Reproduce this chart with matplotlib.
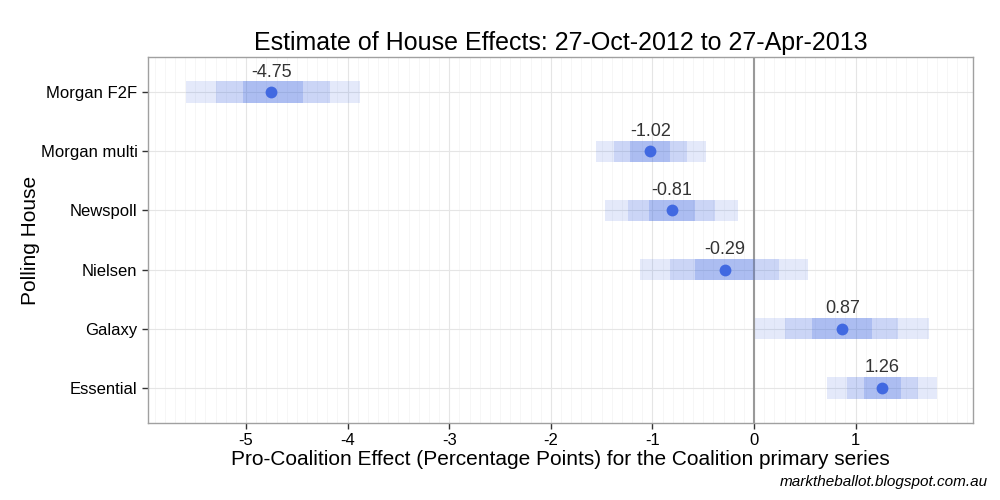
import matplotlib
matplotlib.use("Agg")
import matplotlib.pyplot as plt
import numpy as np

plt.rcParams['font.family'] = ['Liberation Sans', 'DejaVu Sans']

houses = ["Morgan F2F", "Morgan multi", "Newspoll", "Nielsen", "Galaxy", "Essential"]
means = [-4.75, -1.02, -0.81, -0.29, 0.87, 1.26]
outer_lo = [-5.59, -1.56, -1.47, -1.12, 0.01, 0.72]
outer_hi = [-3.88, -0.47, -0.16, 0.53, 1.72, 1.80]
mid_lo = [-5.30, -1.38, -1.24, -0.83, 0.30, 0.91]
mid_hi = [-4.17, -0.66, -0.38, 0.25, 1.42, 1.61]
inner_lo = [-5.03, -1.22, -1.03, -0.58, 0.57, 1.08]
inner_hi = [-4.44, -0.83, -0.58, -0.01, 1.16, 1.45]
xticks = [-5, -4, -3, -2, -1, 0, 1]

fig = plt.figure(figsize=(10, 5), dpi=100)
ax = fig.add_axes([0.148, 0.154, 0.825, 0.732])

n = len(houses)
ypos = np.arange(n)[::-1] + 1  # Morgan F2F at top
blue = "#4169E1"
h = 0.37
for (lo_arr, hi_arr), a in zip([(outer_lo, outer_hi), (mid_lo, mid_hi), (inner_lo, inner_hi)],
                               [0.14, 0.15, 0.22]):
    ax.barh(ypos, np.array(hi_arr) - np.array(lo_arr), left=lo_arr, height=h,
            color=blue, alpha=a, linewidth=0, zorder=3)

ax.plot(means, ypos, 'o', color=blue, markersize=8.5, markeredgewidth=0, zorder=5)
for m, y in zip(means, ypos):
    ax.text(m, y + 0.20, f"{m:.2f}", ha='center', va='bottom', fontsize=13, color='#333333', zorder=6)

ax.axvline(0, color='#999999', linewidth=1.5, zorder=2)

ax.set_xlim(-5.965, 2.155)
ax.set_ylim(0.4, 6.6)
ax.set_yticks(ypos)
ax.set_yticklabels(houses)
ax.set_xticks(xticks)
ax.set_xticklabels([str(t) for t in xticks])
ax.set_xticks(np.arange(-5.9, 2.15, 0.1), minor=True)
ax.tick_params(axis='both', which='major', labelsize=12, color='#333333', length=4, width=1, labelcolor='black')
ax.tick_params(axis='x', which='minor', length=0)
ax.grid(which='major', axis='both', color='#E5E5E5', linewidth=0.8, zorder=0)
ax.grid(which='minor', axis='x', color='#F5F5F5', linewidth=0.6, zorder=0)
ax.set_axisbelow(True)
for s in ax.spines.values():
    s.set_color('#A0A0A0')
    s.set_linewidth(1)

ax.set_title("Estimate of House Effects: 27-Oct-2012 to 27-Apr-2013", fontsize=18, pad=5)
ax.set_xlabel("Pro-Coalition Effect (Percentage Points) for the Coalition primary series", fontsize=15, labelpad=1)
ax.set_ylabel("Polling House", fontsize=15)
ax.yaxis.set_label_coords(-0.131, 0.5)

fig.text(0.988, 0.022, "marktheballot.blogspot.com.au", ha='right', va='bottom', fontsize=11, style='italic')

fig.savefig("out.png", dpi=100)
